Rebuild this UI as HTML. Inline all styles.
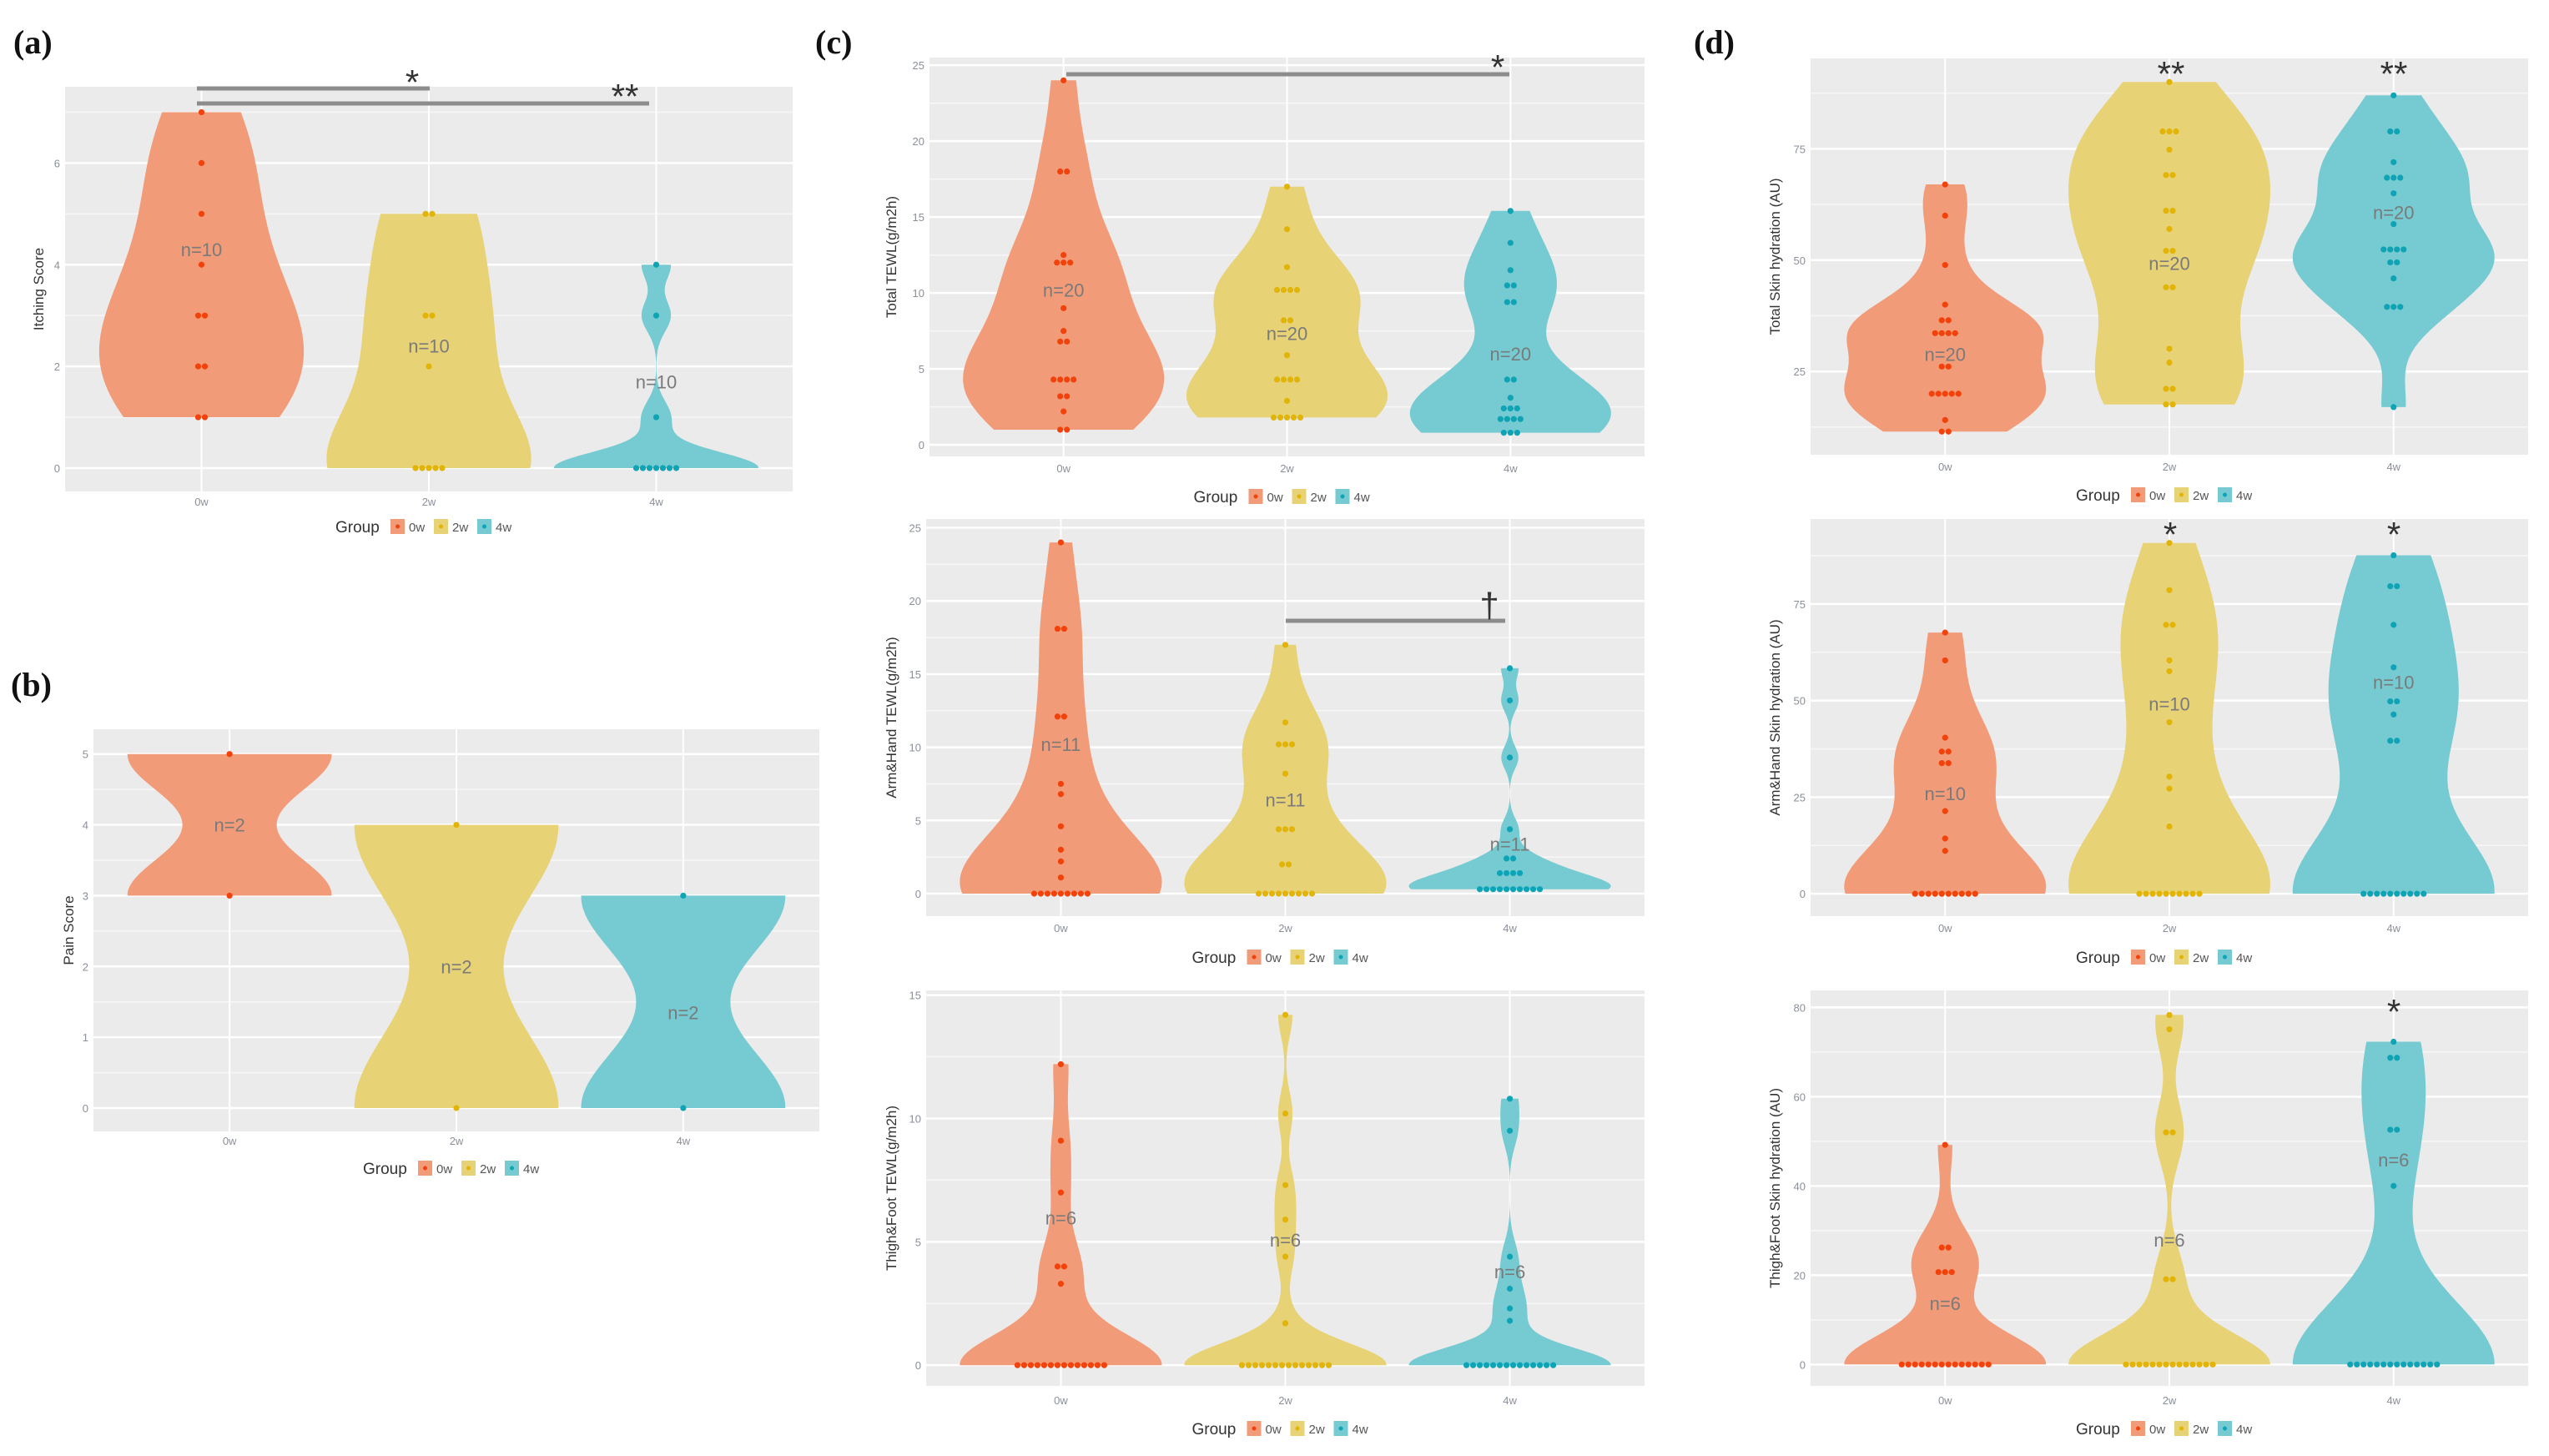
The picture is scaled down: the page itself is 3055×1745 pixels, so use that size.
<!DOCTYPE html>
<html><head><meta charset="utf-8"><title>Violin plots</title>
<style>
html,body{margin:0;padding:0;background:#fff;}
svg{display:block;font-family:"Liberation Sans",sans-serif;}
</style></head>
<body>
<svg id="fig" width="3055" height="1745" viewBox="0 0 3055 1745" xmlns="http://www.w3.org/2000/svg">
<rect x="0" y="0" width="3055" height="1745" fill="#fff"/>
<text x="16" y="64" font-family="Liberation Serif, serif" font-weight="bold" font-size="40" fill="#111">(a)</text>
<text x="13" y="834" font-family="Liberation Serif, serif" font-weight="bold" font-size="40" fill="#111">(b)</text>
<text x="977" y="64" font-family="Liberation Serif, serif" font-weight="bold" font-size="40" fill="#111">(c)</text>
<text x="2030" y="64" font-family="Liberation Serif, serif" font-weight="bold" font-size="40" fill="#111">(d)</text>
<g id="plots"></g>
</svg>
<script>
const categories = ['0w', '2w', '4w'];
const legendLabels = ['0w', '2w', '4w'];

const itch0 = [1,1,2,2,3,3,4,5,6,7];
const itch2 = [0,0,0,0,0,2,3,3,5,5];
const itch4 = [0,0,0,0,0,0,0,1,3,4];
const itchTicks = [0,2,4,6];
const itchNY = [4.3, 2.4, 1.7];

const pain0 = [3,5];
const pain2 = [0,4];
const pain4 = [0,3];
const painTicks = [0,1,2,3,4,5];
const painNY = [4.0, 2.0, 1.35];

const tewl0 = [24,18,18,12.5,12,12,12,9,7.5,6.8,6.8,4.3,4.3,4.3,4.3,3.2,3.2,2.2,1,1];
const tewl2 = [17,14.2,11.7,10.2,10.2,10.2,10.2,8.2,8.2,5.9,4.3,4.3,4.3,4.3,2.9,1.8,1.8,1.8,1.8,1.8];
const tewl4 = [15.4,13.3,11.5,10.5,10.5,9.4,9.4,4.3,4.3,3.1,2.4,2.4,2.4,1.7,1.7,1.7,1.7,0.8,0.8,0.8];
const tewlTicks = [0,5,10,15,20,25];
const tewlNY = [10.2, 7.35, 6.0];

const armTewl0 = [24,18.1,18.1,12.1,12.1,7.5,6.8,4.6,3.0,2.2,1.1,0,0,0,0,0,0,0,0,0];
const armTewl2 = [17,11.7,10.2,10.2,10.2,8.2,4.4,4.4,4.4,2.0,2.0,0,0,0,0,0,0,0,0,0];
const armTewl4 = [15.4,13.2,9.3,4.4,2.4,2.4,1.4,1.4,1.4,1.4,0.3,0.3,0.3,0.3,0.3,0.3,0.3,0.3,0.3,0.3];
const armTewlTicks = [0,5,10,15,20,25];
const armTewlNY = [10.2, 6.4, 3.4];

const legTewl0 = [12.2,9.1,7.0,4.0,4.0,3.3,0,0,0,0,0,0,0,0,0,0,0,0,0,0];
const legTewl2 = [14.2,10.2,7.3,5.9,4.4,1.7,0,0,0,0,0,0,0,0,0,0,0,0,0,0];
const legTewl4 = [10.8,9.5,4.4,3.1,2.3,1.8,0,0,0,0,0,0,0,0,0,0,0,0,0,0];
const legTewlTicks = [0,5,10,15];
const legTewlNY = [5.97, 5.07, 3.8];

const hyd0 = [67,60,48.9,40,36.5,36.5,33.6,33.6,33.6,33.6,26.1,26.1,20,20,20,20,20,14.1,11.5,11.5];
const hyd2 = [90,78.9,78.9,78.9,74.8,69.1,69.1,61.1,61.1,57,52.1,52.1,43.9,43.9,30.1,27,21.1,21.1,17.6,17.6];
const hyd4 = [87,78.9,78.9,72,68.5,68.5,68.5,65,58.1,52.4,52.4,52.4,52.4,49.5,49.5,45.9,39.5,39.5,39.5,17];
const hydTicks = [25,50,75];
const hydNY = [28.9, 49.3, 60.7];

const armHyd0 = [67.6,60.4,40.4,36.8,36.8,33.8,33.8,21.4,14.3,11.1,0,0,0,0,0,0,0,0,0,0];
const armHyd2 = [90.8,78.6,69.6,69.6,60.4,57.6,44.4,30.3,27.2,17.4,0,0,0,0,0,0,0,0,0,0];
const armHyd4 = [87.6,79.6,79.6,69.6,58.6,49.8,49.8,46.4,39.6,39.6,0,0,0,0,0,0,0,0,0,0];
const armHydTicks = [0,25,50,75];
const armHydNY = [25.9, 49.2, 54.8];

const legHyd0 = [49.2,26.2,26.2,20.7,20.7,20.7,0,0,0,0,0,0,0,0,0,0,0,0,0,0];
const legHyd2 = [78.3,75.1,52,52,19.1,19.1,0,0,0,0,0,0,0,0,0,0,0,0,0,0];
const legHyd4 = [72.3,68.7,68.7,52.6,52.6,40,0,0,0,0,0,0,0,0,0,0,0,0,0,0];
const legHydTicks = [0,20,40,60,80];
const legHydNY = [13.7, 27.9, 45.9];

const fills = ['#F29B79', '#E8D276', '#75CBD1'];
const dotCols = ['#F2420C', '#E2B406', '#0EA4B6'];
const NS = 'http://www.w3.org/2000/svg';
const root = document.getElementById('plots');

function mk(tag, attrs, parent) {
  const e = document.createElementNS(NS, tag);
  for (const k in attrs) e.setAttribute(k, attrs[k]);
  (parent || root).appendChild(e);
  return e;
}
function quantile(s, p) {
  const h = (s.length - 1) * p, lo = Math.floor(h), hi = Math.ceil(h);
  return s[lo] + (s[hi] - s[lo]) * (h - lo);
}
function bwNrd0(x) {
  const n = x.length;
  const m = x.reduce((a, b) => a + b, 0) / n;
  const sd = Math.sqrt(x.reduce((a, b) => a + (b - m) * (b - m), 0) / (n - 1));
  const s = x.slice().sort((a, b) => a - b);
  const iqr = quantile(s, 0.75) - quantile(s, 0.25);
  let lo = Math.min(sd, iqr / 1.34);
  if (!lo) lo = sd || Math.abs(s[0]) || 1;
  return 0.9 * lo * Math.pow(n, -0.2);
}

function drawPanel(p) {
  const g = mk('g', {});
  
  
  const W = p.x1 - p.x0;
  const ys = v => p.y1 - (v - p.dmin) / (p.dmax - p.dmin) * (p.y1 - p.y0);
  const xs = i => p.x0 + W * (0.6 + i) / 3.2;
  const spacing = W / 3.2;
  const bg = mk('rect', {x: p.x0, y: p.y0, width: W, height: p.y1 - p.y0, fill: '#EBEBEB'}, g);
  
  
  // minor gridlines
  const step = p.ticks[1] - p.ticks[0];
  for (let v = p.ticks[0] - step / 2; v <= p.dmax; v += step) {
    if (v < p.dmin) continue;
    mk('line', {x1: p.x0, x2: p.x1, y1: ys(v), y2: ys(v), stroke: '#F7F7F7', 'stroke-width': 1.5}, g);
  }
  p.ticks.forEach(t => {
    const gl = mk('line', {x1: p.x0, x2: p.x1, y1: ys(t), y2: ys(t), stroke: '#fff', 'stroke-width': 2.5}, g);
    
    
    const tl = mk('text', {x: p.x0 - 6, y: ys(t) + 5, 'text-anchor': 'end', 'font-size': 13, fill: '#8a8f99'}, g);
    tl.textContent = t;
    
    
  });
  categories.forEach((c, i) => {
    mk('line', {x1: xs(i), x2: xs(i), y1: p.y0, y2: p.y1, stroke: '#fff', 'stroke-width': 2}, g);
    const xl = mk('text', {x: xs(i), y: p.labY, 'text-anchor': 'middle', 'font-size': 13, fill: '#8a8f99'}, g);
    xl.textContent = c;
    
    
  });
  // violins
  p.series.forEach((data, i) => {
    const mn = Math.min(...data), mx = Math.max(...data);
    const cx = xs(i);
    if (mx > mn) {
      const bw = bwNrd0(data);
      const N = 200, pts = [];
      let dmaxv = 0;
      for (let k = 0; k <= N; k++) {
        const t = mn + (mx - mn) * k / N;
        let d = 0;
        data.forEach(v => { const z = (t - v) / bw; d += Math.exp(-0.5 * z * z); });
        pts.push([t, d]);
        if (d > dmaxv) dmaxv = d;
      }
      const hw = 0.45 * spacing;
      let dstr = '';
      pts.forEach((q, k) => { dstr += (k ? 'L' : 'M') + (cx + hw * q[1] / dmaxv).toFixed(1) + ',' + ys(q[0]).toFixed(1); });
      for (let k = pts.length - 1; k >= 0; k--) dstr += 'L' + (cx - hw * pts[k][1] / dmaxv).toFixed(1) + ',' + ys(pts[k][0]).toFixed(1);
      const vp = mk('path', {d: dstr + 'Z', fill: fills[i]}, g);
      
      
    }
    // dots
    const groups = {};
    data.forEach(v => { groups[v] = (groups[v] || 0) + 1; });
    Object.keys(groups).forEach(key => {
      const k = groups[key];
      for (let j = 0; j < k; j++) {
        const dot = mk('circle', {cx: cx + (j - (k - 1) / 2) * 8, cy: ys(+key), r: 3.6, fill: dotCols[i]}, g);
        
        
      }
    });
    const nt = mk('text', {x: cx, y: ys(p.nY[i]) + 8, 'text-anchor': 'middle', 'font-size': 22, fill: '#7a7a7a'}, g);
    nt.textContent = 'n=' + p.n;
    
    
  });
  // y title
  const cy = (p.y0 + p.y1) / 2;
  const yt = mk('text', {x: p.titleX, y: cy, 'text-anchor': 'middle', 'font-size': 17, fill: '#333', transform: 'rotate(-90 ' + p.titleX + ' ' + cy + ')'}, g);
  yt.textContent = p.title;
  
  
  // legend
  const lx = (p.x0 + p.x1) / 2 - 112, ly = p.legY;
  const lg = mk('g', {}, g);
  
  
  const gt = mk('text', {x: lx, y: ly + 7, 'font-size': 19, fill: '#333'}, lg);
  gt.textContent = 'Group';
  legendLabels.forEach((l, i) => {
    const kx = lx + 66 + i * 52;
    const key = mk('rect', {x: kx, y: ly - 9, width: 17, height: 18, fill: fills[i]}, lg);
    
    
    mk('circle', {cx: kx + 8.5, cy: ly, r: 2.5, fill: dotCols[i]}, lg);
    const lt = mk('text', {x: kx + 22, y: ly + 6, 'font-size': 15, fill: '#555'}, lg);
    lt.textContent = l;
  });
  return {xs, ys};
}

const panels = [
  {name:'itching-score-plot', x0:78, x1:950, y0:104, y1:589, dmin:-0.46, dmax:7.5, ticks:itchTicks, series:[itch0,itch2,itch4], nY:itchNY, n:10, title:'Itching Score', titleX:52, labY:606, legY:631},
  {name:'pain-score-plot', x0:112, x1:982, y0:874, y1:1356, dmin:-0.33, dmax:5.35, ticks:painTicks, series:[pain0,pain2,pain4], nY:painNY, n:2, title:'Pain Score', titleX:88, labY:1372, legY:1400},
  {name:'total-tewl-plot', x0:1114, x1:1971, y0:69, y1:547, dmin:-0.76, dmax:25.5, ticks:tewlTicks, series:[tewl0,tewl2,tewl4], nY:tewlNY, n:20, title:'Total TEWL(g/m2h)', titleX:1074, labY:566, legY:595},
  {name:'armhand-tewl-plot', x0:1110, x1:1971, y0:622, y1:1098, dmin:-1.54, dmax:25.6, ticks:armTewlTicks, series:[armTewl0,armTewl2,armTewl4], nY:armTewlNY, n:11, title:'Arm&Hand TEWL(g/m2h)', titleX:1074, labY:1117, legY:1147},
  {name:'thighfoot-tewl-plot', x0:1110, x1:1971, y0:1187, y1:1661, dmin:-0.84, dmax:15.19, ticks:legTewlTicks, series:[legTewl0,legTewl2,legTewl4], nY:legTewlNY, n:6, title:'Thigh&Foot TEWL(g/m2h)', titleX:1074, labY:1683, legY:1712},
  {name:'total-hydration-plot', x0:2170, x1:3030, y0:70, y1:545, dmin:6.3, dmax:95.3, ticks:hydTicks, series:[hyd0,hyd2,hyd4], nY:hydNY, n:20, title:'Total Skin hydration (AU)', titleX:2133, labY:564, legY:593},
  {name:'armhand-hydration-plot', x0:2170, x1:3030, y0:622, y1:1098, dmin:-5.8, dmax:97, ticks:armHydTicks, series:[armHyd0,armHyd2,armHyd4], nY:armHydNY, n:10, title:'Arm&Hand Skin hydration (AU)', titleX:2133, labY:1117, legY:1147},
  {name:'thighfoot-hydration-plot', x0:2170, x1:3030, y0:1187, y1:1661, dmin:-4.8, dmax:83.8, ticks:legHydTicks, series:[legHyd0,legHyd2,legHyd4], nY:legHydNY, n:6, title:'Thigh&Foot Skin hydration (AU)', titleX:2133, labY:1683, legY:1712}
];
panels.forEach(drawPanel);

// significance annotations
const sigG = mk('g', {});


function bar(x1, x2, y) {
  const l = mk('line', {x1: x1, x2: x2, y1: y, y2: y, stroke: '#8c8c8c', 'stroke-width': 5}, sigG);
  
  
}
function mark(x, y, s) {
  const t = mk('text', {x: x, y: y + 22, 'text-anchor': 'middle', 'font-size': 42, fill: '#333'}, sigG);
  t.textContent = s;
  
  
}
bar(236, 515, 106); mark(494, 91, '*');
bar(236, 778, 124); mark(749, 108, '**');
bar(1278, 1809, 89); mark(1795, 73, '*');
bar(1541, 1804, 744); mark(1785, 718, '†');
mark(2602, 81, '**'); mark(2869, 81, '**');
mark(2601, 633, '*'); mark(2869, 633, '*');
mark(2869, 1205, '*');
</script>
</body></html>
